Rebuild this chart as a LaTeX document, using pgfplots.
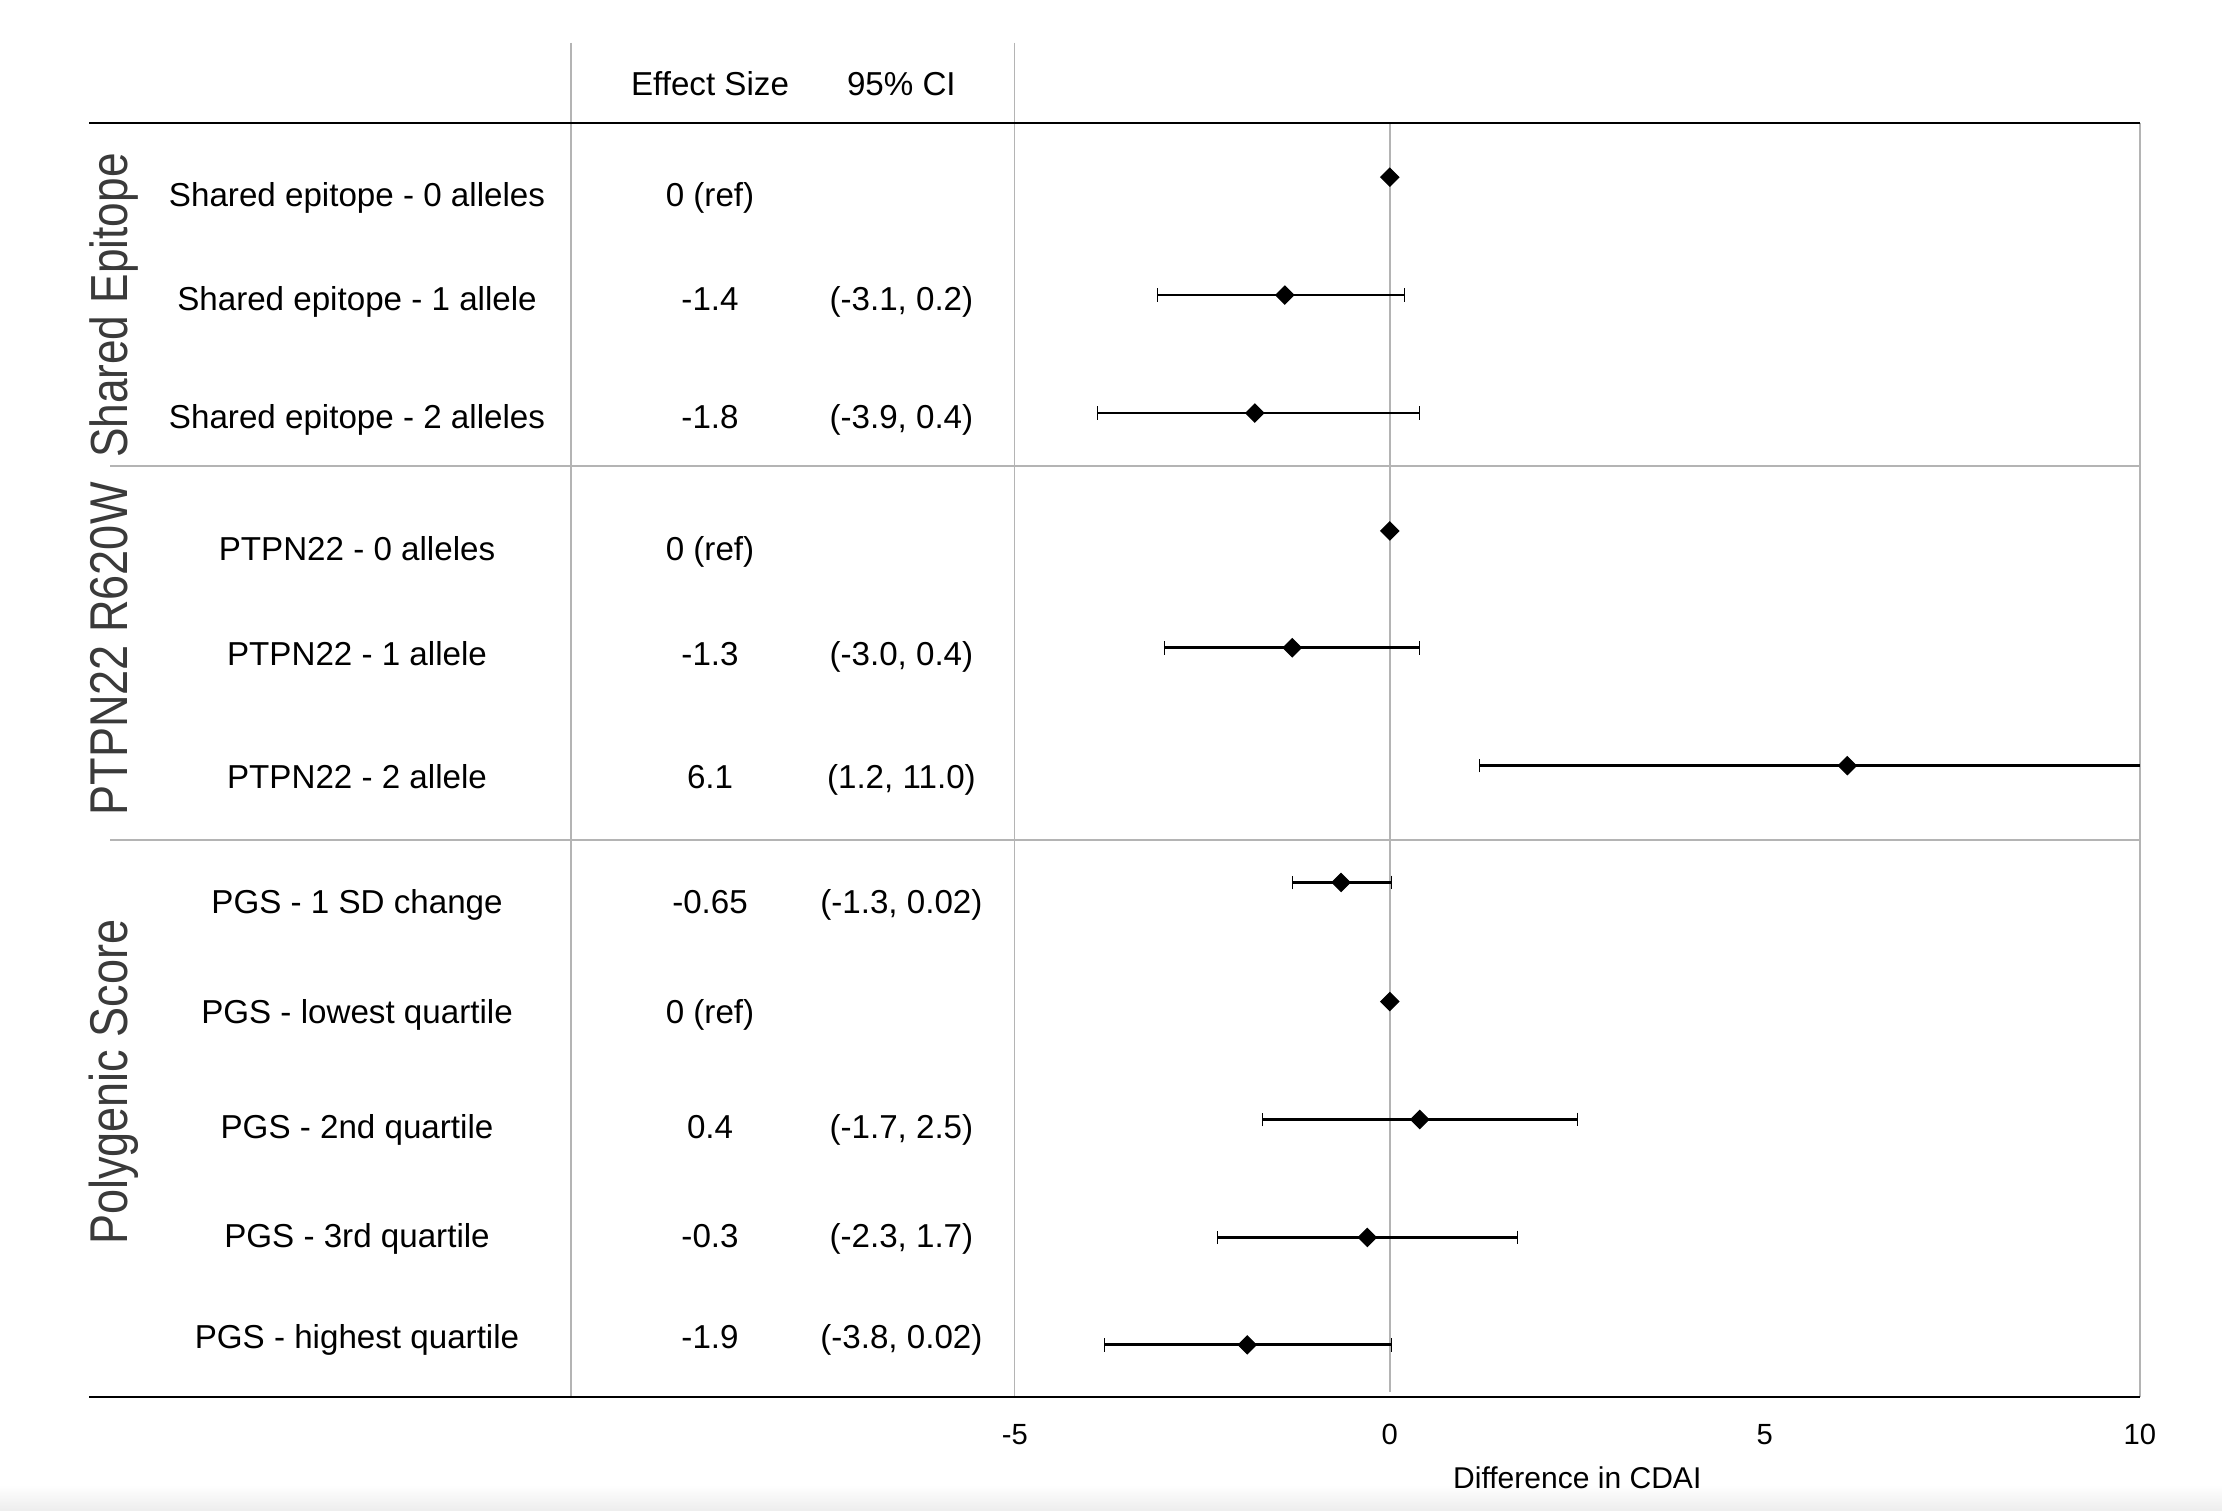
\documentclass[border=0pt]{standalone}
\usepackage{pgfplots}
\pgfplotsset{compat=1.18}
\usepackage{fontspec}
\setmainfont{Liberation Sans}
\definecolor{rule-grey}{RGB}{180,180,180}
\definecolor{group-grey}{RGB}{58,58,58}

\begin{document}
\begin{tikzpicture}[
    row/.style={font=\fontsize{11.7}{14}\selectfont, anchor=base, yshift=-4.2pt},
    group/.style={rotate=90, anchor=base, text=group-grey},
]
\begin{axis}[
    scale only axis,
    width=723.5pt,
    height=449.5pt,
    xmin=-17.34, xmax=10,
    ymin=0.539, ymax=11.449,
    y dir=reverse,
    axis line style={draw=none},
    major tick length=0pt,
    xtick={-5,0,5,10},
    xticklabels={-5,0,5,10},
    ytick=\empty,
    xticklabel style={font=\fontsize{10.3}{12}\selectfont, anchor=base, yshift=-16.6pt},
    clip mode=individual,
]
% page size and the screenshot's fade at the bottom
\path (axis cs:-18.53,-0.517) rectangle (axis cs:11.096,12.42);
\shade[top color=white, bottom color=black!7, draw=none]
    (axis cs:-18.53,12.2) rectangle (axis cs:11.096,12.42);

% table rules
\draw[rule-grey, line width=0.5pt] (axis cs:-10.916,-0.153) -- (axis cs:-10.916,11.449);
\draw[rule-grey, line width=0.5pt] (axis cs:-5,-0.153) -- (axis cs:-5,11.449);
\draw[rule-grey, line width=0.55pt] (axis cs:0,0.539) -- (axis cs:0,11.40);
\draw[rule-grey, line width=0.5pt] (axis cs:10,0.539) -- (axis cs:10,11.449);
\draw[rule-grey, line width=0.7pt] (axis cs:-17.06,3.476) -- (axis cs:10,3.476);
\draw[rule-grey, line width=0.7pt] (axis cs:-17.06,6.680) -- (axis cs:10,6.680);
\draw[black, line width=0.75pt] (axis cs:-17.34,0.539) -- (axis cs:10,0.539);
\draw[black, line width=0.75pt] (axis cs:-17.34,11.449) -- (axis cs:10,11.449);

% reference categories
\addplot[only marks, black, mark=square*, mark size=2.25pt, mark options={rotate=45, fill=black}]
coordinates {(0,1) (0,4.03) (0,8.06)};

% estimates with 95% CI
\addplot[only marks, black, mark=square*, mark size=2.25pt, mark options={rotate=45, fill=black},
    error bars/.cd, x dir=both, x explicit,
    error mark=|,
    error bar style={line width=1pt, black},
    error mark options={line width=0.4pt, mark size=2.4pt, black}]
coordinates {
    (-1.4,2.01)   += (1.6,0)  -= (1.7,0)
    (-1.8,3.02)   += (2.2,0)  -= (2.1,0)
    (-1.3,5.03)   += (1.7,0)  -= (1.7,0)
    (6.1,6.04)    += (4.9,0)  -= (4.9,0)
    (-0.65,7.04)  += (0.67,0) -= (0.65,0)
    (0.4,9.07)    += (2.1,0)  -= (2.1,0)
    (-0.3,10.08)  += (2.0,0)  -= (2.0,0)
    (-1.9,11)     += (1.92,0) -= (1.9,0)
};

% header
\node[row] at (axis cs:-9.063,0.199) {Effect Size};
\node[row] at (axis cs:-6.512,0.199) {95\% CI};

% row labels
\node[row] at (axis cs:-13.77,1.146) {Shared epitope - 0 alleles};
\node[row] at (axis cs:-13.77,2.044) {Shared epitope - 1 allele};
\node[row] at (axis cs:-13.77,3.051) {Shared epitope - 2 alleles};
\node[row] at (axis cs:-13.77,4.180) {PTPN22 - 0 alleles};
\node[row] at (axis cs:-13.77,5.078) {PTPN22 - 1 allele};
\node[row] at (axis cs:-13.77,6.133) {PTPN22 - 2 allele};
\node[row] at (axis cs:-13.77,7.201) {PGS - 1 SD change};
\node[row] at (axis cs:-13.77,8.148) {PGS - lowest quartile};
\node[row] at (axis cs:-13.77,9.131) {PGS - 2nd quartile};
\node[row] at (axis cs:-13.77,10.066) {PGS - 3rd quartile};
\node[row] at (axis cs:-13.77,10.927) {PGS - highest quartile};

% effect sizes
\node[row] at (axis cs:-9.063,1.146) {0 (ref)};
\node[row] at (axis cs:-9.063,2.044) {-1.4};
\node[row] at (axis cs:-9.063,3.051) {-1.8};
\node[row] at (axis cs:-9.063,4.180) {0 (ref)};
\node[row] at (axis cs:-9.063,5.078) {-1.3};
\node[row] at (axis cs:-9.063,6.133) {6.1};
\node[row] at (axis cs:-9.063,7.201) {-0.65};
\node[row] at (axis cs:-9.063,8.148) {0 (ref)};
\node[row] at (axis cs:-9.063,9.131) {0.4};
\node[row] at (axis cs:-9.063,10.066) {-0.3};
\node[row] at (axis cs:-9.063,10.927) {-1.9};

% confidence intervals
\node[row] at (axis cs:-6.512,2.044) {(-3.1, 0.2)};
\node[row] at (axis cs:-6.512,3.051) {(-3.9, 0.4)};
\node[row] at (axis cs:-6.512,5.078) {(-3.0, 0.4)};
\node[row] at (axis cs:-6.512,6.133) {(1.2, 11.0)};
\node[row] at (axis cs:-6.512,7.201) {(-1.3, 0.02)};
\node[row] at (axis cs:-6.512,9.131) {(-1.7, 2.5)};
\node[row] at (axis cs:-6.512,10.066) {(-2.3, 1.7)};
\node[row] at (axis cs:-6.512,10.927) {(-3.8, 0.02)};

% group labels
\node[group] at (axis cs:-16.83,2.10) {\scalebox{1}[1.18]{\fontsize{15.6}{16}\selectfont Shared Epitope}};
\node[group] at (axis cs:-16.83,5.04) {\scalebox{1}[1.18]{\fontsize{15.9}{16}\selectfont PTPN22 R620W}};
\node[group] at (axis cs:-16.83,8.75) {\scalebox{1}[1.18]{\fontsize{15.9}{16}\selectfont Polygenic Score}};

% axis title
\node[font=\fontsize{10.6}{12}\selectfont] at (axis cs:2.5,12.14) {Difference in CDAI};
\end{axis}
\end{tikzpicture}
\end{document}
